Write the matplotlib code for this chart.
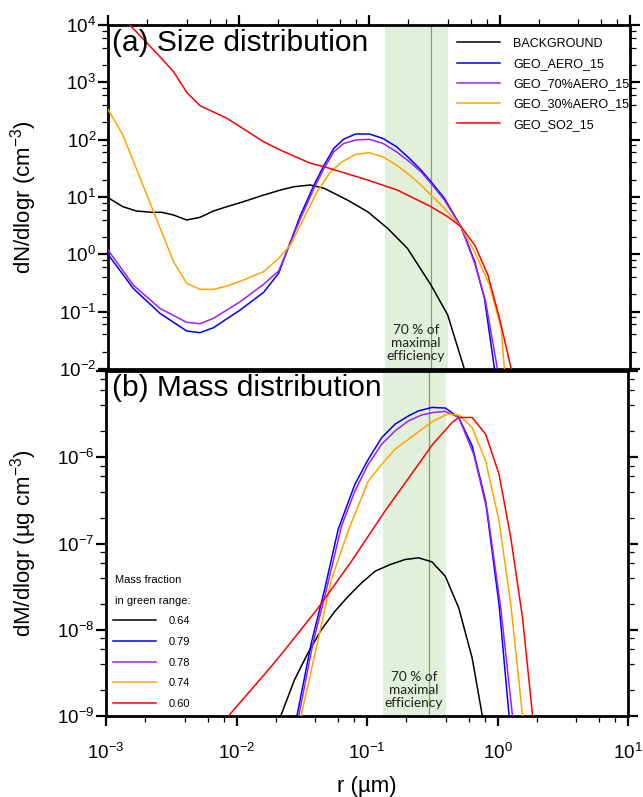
"""Size and mass distributions of stratospheric aerosol for several geoengineering scenarios."""

import matplotlib

matplotlib.use("Agg")

import matplotlib.pyplot as plt
import numpy as np
from matplotlib.ticker import FuncFormatter, LogLocator, NullFormatter

plt.rcParams["font.family"] = ["Liberation Sans", "DejaVu Sans"]
plt.rcParams["mathtext.fontset"] = "custom"
plt.rcParams["mathtext.rm"] = "Liberation Sans"
plt.rcParams["mathtext.it"] = "Liberation Sans:italic"
plt.rcParams["mathtext.bf"] = "Liberation Sans:bold"

# ---- data (radius in um) ----
SERIES = ["BACKGROUND", "GEO_AERO_15", "GEO_70%AERO_15", "GEO_30%AERO_15", "GEO_SO2_15"]
COLORS = ["black", "#0000ff", "#a020f0", "#ffa500", "#ff0000"]
MASS_FRACTION = ["0.64", "0.79", "0.78", "0.74", "0.60"]

BAND = (0.133, 0.4)
OPT_R = 0.3

# (a) number distribution dN/dlogr, cm-3
r_bg_n = [0.001, 0.0013, 0.00165, 0.00216, 0.00258, 0.00318, 0.00401, 0.00507, 0.00643, 0.00815, 0.0109,
          0.01556, 0.0209, 0.0266, 0.0355, 0.0453, 0.0682, 0.0975, 0.139, 0.197, 0.2985, 0.401, 0.538, 0.63]
n_bg = [9.73, 6.78, 5.7, 5.41, 5.41, 4.85, 3.97, 4.42, 5.7, 6.78, 8.28,
        10.8, 13.2, 15.1, 16.2, 14.2, 8.87, 5.55, 2.84, 1.27, 0.292, 0.0875, 0.01, 0.002]

r_aero_n = [0.001, 0.00156, 0.0025, 0.00401, 0.00507, 0.00643, 0.0103, 0.01556, 0.0203, 0.0299, 0.0379,
            0.0453, 0.0538, 0.0643, 0.0791, 0.1005, 0.1274, 0.1622, 0.204, 0.25, 0.2985, 0.378, 0.507,
            0.6457, 0.767, 0.916, 1.0]
n_aero = [1.0, 0.255, 0.0935, 0.046, 0.043, 0.0525, 0.107, 0.217, 0.467, 4.85, 16.2,
          36.1, 70.6, 102.8, 125.6, 125.6, 105.4, 75.5, 47.2, 29.6, 18.5, 9.48, 3.03,
          0.745, 0.171, 0.01, 0.0016]

r_aero70_n = [0.001, 0.00156, 0.0025, 0.00401, 0.00507, 0.00643, 0.0103, 0.01556, 0.0203, 0.0299, 0.0379,
              0.0453, 0.0538, 0.0643, 0.0791, 0.1005, 0.1274, 0.1622, 0.204, 0.25, 0.2985, 0.378, 0.507,
              0.6457, 0.783, 0.964, 1.07]
n_aero70 = [1.19, 0.292, 0.114, 0.0652, 0.0617, 0.0766, 0.149, 0.3, 0.512, 4.25, 14.2,
            31.6, 61.7, 86.3, 98.6, 101.4, 86.3, 61.7, 41.3, 27.6, 17.3, 8.87, 3.03,
            0.697, 0.149, 0.01, 0.0016]

r_aero30_n = [0.001, 0.0013, 0.00318, 0.00401, 0.00507, 0.00643, 0.00815, 0.0109, 0.01556, 0.0203, 0.025,
              0.0356, 0.0401, 0.0508, 0.0624, 0.0791, 0.1005, 0.1274, 0.1622, 0.204, 0.25, 0.2985, 0.378,
              0.507, 0.662, 0.838, 1.03, 1.09, 1.2]
n_aero30 = [338, 120.5, 0.745, 0.312, 0.245, 0.245, 0.28, 0.356, 0.498, 0.851, 1.455,
            7.24, 12.4, 27.6, 41.3, 55.5, 59.3, 50.5, 36.1, 24.2, 16.2, 10.8, 6.34,
            3.03, 0.973, 0.292, 0.0513, 0.01, 0.001]

r_so2_n = [0.001, 0.00147, 0.00243, 0.00318, 0.00401, 0.00507, 0.00815, 0.01556, 0.0209, 0.0356, 0.0453,
           0.0975, 0.165, 0.2985, 0.401, 0.507, 0.6457, 0.815, 1.0, 1.23, 1.51]
n_so2 = [25000, 10000, 3000, 1530, 670, 391, 236, 92, 66, 38.7, 33.8,
         19.8, 13.2, 6.78, 4.53, 3.03, 1.455, 0.435, 0.0766, 0.01, 0.001]

# (b) mass distribution dM/dlogr, ug cm-3
r_bg_m = [0.01778, 0.02198, 0.0278, 0.03524, 0.04467, 0.05662, 0.07178, 0.09078, 0.1151, 0.1503, 0.1959,
          0.2483, 0.3148, 0.3981, 0.5047, 0.6397, 0.7656, 0.871]
m_bg = [4.0e-10, 1.03e-9, 2.62e-9, 5.36e-9, 1.0e-8, 1.63e-8, 2.44e-8, 3.49e-8, 4.76e-8, 5.70e-8, 6.52e-8,
        6.82e-8, 6.12e-8, 4.17e-8, 1.79e-8, 4.69e-9, 1.0e-9, 2.5e-10]

r_aero_m = [0.02512, 0.02917, 0.03741, 0.04732, 0.06012, 0.08072, 0.1023, 0.1297, 0.1641, 0.208, 0.2483,
            0.3148, 0.3981, 0.5047, 0.6397, 0.811, 1.028, 1.227, 1.318]
m_aero = [3.55e-10, 1.03e-9, 7.0e-9, 2.92e-8, 1.46e-7, 4.85e-7, 9.48e-7, 1.69e-6, 2.42e-6, 3.02e-6, 3.45e-6,
          3.78e-6, 3.72e-6, 2.89e-6, 1.35e-6, 3.1e-7, 1.95e-8, 1.0e-9, 2.5e-10]

r_aero70_m = [0.0263, 0.03006, 0.03855, 0.04887, 0.06368, 0.08072, 0.1023, 0.1297, 0.1641, 0.208, 0.2636,
              0.3236, 0.3981, 0.5047, 0.6577, 0.8356, 1.059, 1.303, 1.396]
m_aero70 = [3.98e-10, 1.02e-9, 7.0e-9, 2.92e-8, 1.58e-7, 4.06e-7, 8.3e-7, 1.42e-6, 2.02e-6, 2.64e-6, 3.1e-6,
            3.31e-6, 3.4e-6, 2.89e-6, 1.08e-6, 2.38e-7, 1.79e-8, 1.0e-9, 2.5e-10]

r_aero30_m = [0.02754, 0.03133, 0.04217, 0.05333, 0.07244, 0.1023, 0.1297, 0.1641, 0.208, 0.2636, 0.3236,
              0.4111, 0.5047, 0.6397, 0.811, 1.028, 1.265, 1.556, 1.66]
m_aero30 = [3.98e-10, 1.02e-9, 7.66e-9, 3.81e-8, 1.46e-7, 5.3e-7, 8.3e-7, 1.24e-6, 1.62e-6, 2.12e-6, 2.64e-6,
            3.16e-6, 3.1e-6, 2.21e-6, 9.06e-7, 1.82e-7, 1.95e-8, 1.0e-9, 2.5e-10]

r_so2_m = [0.00708, 0.00867, 0.01288, 0.01837, 0.02328, 0.0421, 0.076, 0.1374, 0.2483, 0.3148, 0.4487,
           0.5047, 0.6397, 0.811, 1.028, 1.265, 1.556, 1.858, 1.995]
m_so2 = [6.31e-10, 1.0e-9, 2.0e-9, 3.72e-9, 5.75e-9, 1.78e-8, 6.22e-8, 2.38e-7, 8.3e-7, 1.38e-6, 2.53e-6,
         2.89e-6, 2.89e-6, 1.85e-6, 6.34e-7, 1.16e-7, 1.37e-8, 1.0e-9, 2.5e-10]

NUMBER = [(r_bg_n, n_bg), (r_aero_n, n_aero), (r_aero70_n, n_aero70), (r_aero30_n, n_aero30), (r_so2_n, n_so2)]
MASS = [(r_bg_m, m_bg), (r_aero_m, m_aero), (r_aero70_m, m_aero70), (r_aero30_m, m_aero30), (r_so2_m, m_so2)]


def _pow10(v, pos, hide_above=None):
    if hide_above is not None and v > hide_above:
        return ""
    return r"$10^{%d}$" % int(round(np.log10(v)))


def _style_axes(ax, ylim, top_panel):
    ax.set_xscale("log")
    ax.set_yscale("log")
    ax.set_xlim(1e-3, 1e1)
    ax.set_ylim(*ylim)
    for spine in ax.spines.values():
        spine.set_linewidth(2.0)
    for axis in (ax.xaxis, ax.yaxis):
        axis.set_major_locator(LogLocator(base=10, numticks=20))
        axis.set_minor_locator(LogLocator(base=10, subs=(2, 4, 6, 8), numticks=20))
        axis.set_minor_formatter(NullFormatter())
    ax.tick_params(which="major", direction="out", length=7.5, width=1.6, labelsize=13.5, pad=1)
    ax.tick_params(which="minor", direction="out", length=4, width=0.9)
    if top_panel:
        ax.tick_params(which="both", top=True, right=True, bottom=False, labelbottom=False)
        ax.yaxis.set_major_formatter(FuncFormatter(_pow10))
    else:
        ax.tick_params(which="both", top=False, right=True, bottom=True)
        ax.tick_params(axis="x", which="major", pad=12)
        ax.xaxis.set_major_formatter(FuncFormatter(_pow10))
        ax.yaxis.set_major_formatter(FuncFormatter(lambda v, p: _pow10(v, p, hide_above=5e-6)))


def _draw_band(ax):
    ax.axvspan(BAND[0], BAND[1], color="#e2efda", zorder=0, lw=0)
    ax.axvline(OPT_R, color="#70ad47", lw=0.9, zorder=1)
    ax.text(0.228, 0.076, "70 % of\nmaximal\nefficiency", transform=ax.get_xaxis_transform(),
            ha="center", va="center", fontsize=9.8, family=["Lato", "DejaVu Sans"],
            linespacing=1.12, color="#222222", zorder=2)


fig = plt.figure(figsize=(6.43, 7.97), dpi=100)
ax1 = fig.add_axes([108 / 643, 1 - 369 / 797, 522 / 643, 344 / 797])
ax2 = fig.add_axes([106 / 643, 1 - 716 / 797, 522 / 643, 345 / 797])

# (a) size distribution
_style_axes(ax1, (1e-2, 1e4), top_panel=True)
_draw_band(ax1)
for (r, n), name, color in zip(NUMBER, SERIES, COLORS):
    ax1.plot(r, n, color=color, lw=1.1, label=name, zorder=3)
ax1.text(0.008, 0.949, "(a) Size distribution", transform=ax1.transAxes, fontsize=21.5, va="center")
ax1.set_ylabel("dN/dlogr (cm$^{-3}$)", fontsize=16)
ax1.yaxis.set_label_coords(-0.133, 0.5)
ax1.legend(loc="upper left", bbox_to_anchor=(0.6686, 0.963), frameon=False, fontsize=9,
           handlelength=3.4, handletextpad=1.1, labelspacing=0.66, borderpad=0, borderaxespad=0)

# (b) mass distribution
_style_axes(ax2, (1e-9, 1e-5), top_panel=False)
_draw_band(ax2)
handles = []
for (r, m), frac, color in zip(MASS, MASS_FRACTION, COLORS):
    (h,) = ax2.plot(r, m, color=color, lw=1.1, label=frac, zorder=3)
    handles.append(h)
ax2.text(0.011, 0.951, "(b) Mass distribution", transform=ax2.transAxes, fontsize=21.5, va="center")
ax2.set_ylabel("dM/dlogr (\u00b5g cm$^{-3}$)", fontsize=16)
ax2.yaxis.set_label_coords(-0.128, 0.5)
ax2.set_xlabel("r (\u00b5m)", fontsize=16, labelpad=9)
ax2.text(0.017, 0.394, "Mass fraction", transform=ax2.transAxes, fontsize=8, va="center")
ax2.text(0.017, 0.334, "in green range:", transform=ax2.transAxes, fontsize=8, va="center")
ax2.legend(handles=handles, loc="upper left", bbox_to_anchor=(0.014, 0.29), frameon=False, fontsize=8,
           handlelength=3.8, handletextpad=1.2, labelspacing=0.97, borderpad=0, borderaxespad=0)

fig.savefig("out.png", dpi=100)
